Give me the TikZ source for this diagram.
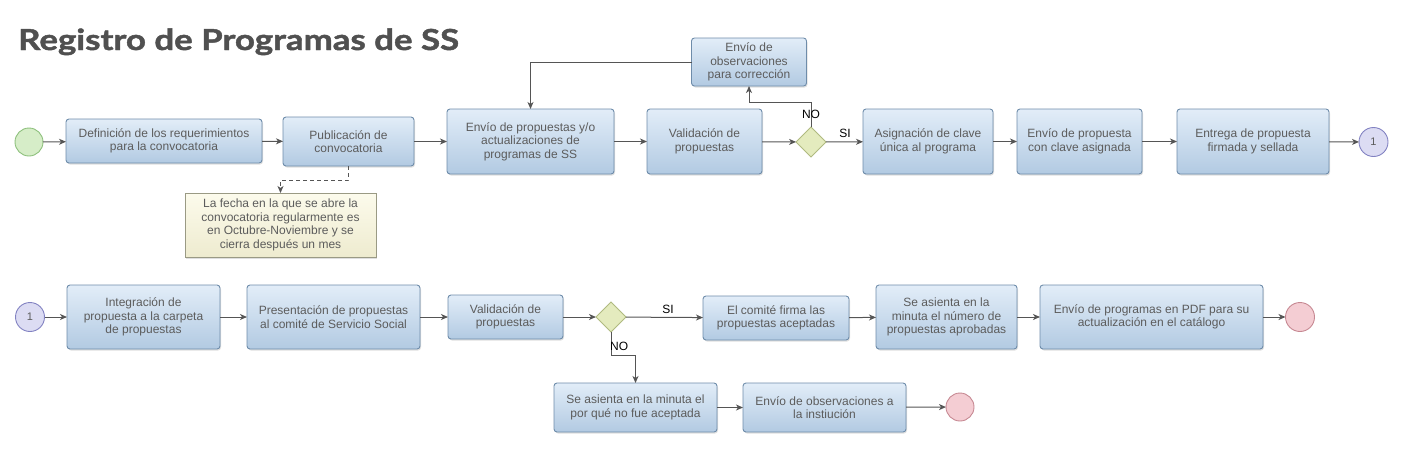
\documentclass[tikz,border=0pt]{standalone}
\usepackage{fontspec}
\setmainfont{Liberation Sans}
\newfontfamily\titlefont{Lato}[FakeStretch=1.2, BoldFeatures={FakeBold=1.6}]
\usetikzlibrary{shapes.geometric,arrows.meta,shadows}
\definecolor{txtgray}{HTML}{5C5C5C}
\definecolor{titlegray}{HTML}{505050}
\definecolor{linegray}{HTML}{555555}
\definecolor{boxtop}{HTML}{E2EDF8}
\definecolor{boxbot}{HTML}{B2CAE2}
\definecolor{boxline}{HTML}{6E8CAA}
\definecolor{notetop}{HTML}{FCFBEC}
\definecolor{notebot}{HTML}{EEEBCF}
\definecolor{noteline}{HTML}{9A9A84}
\definecolor{gatefill}{HTML}{E4EBBE}
\definecolor{gateline}{HTML}{B0BA80}
\definecolor{startfill}{HTML}{D6EDC8}
\definecolor{startline}{HTML}{8DC07C}
\definecolor{endfill}{HTML}{F4CDD3}
\definecolor{endline}{HTML}{C68892}
\definecolor{linkfill}{HTML}{DCDCF3}
\definecolor{linkline}{HTML}{8282C2}
\tikzset{
  proc/.style={rectangle, rounded corners=3pt, draw=boxline, line width=0.9pt,
    top color=boxtop, bottom color=boxbot, text=txtgray, align=center,
    inner sep=0pt, outer sep=0pt, font=\fontsize{12}{13.5}\selectfont,
    drop shadow={shadow xshift=1pt, shadow yshift=-1.5pt, opacity=0.25}},
  nota/.style={rectangle, draw=noteline, line width=0.9pt,
    top color=notetop, bottom color=notebot, text=txtgray, align=center,
    inner sep=0pt, outer sep=0pt, font=\fontsize{12}{13.5}\selectfont,
    drop shadow={shadow xshift=1pt, shadow yshift=-1.5pt, opacity=0.25}},
  gate/.style={diamond, draw=gateline, line width=0.9pt, fill=gatefill,
    minimum width=30pt, minimum height=30pt, inner sep=0pt, outer sep=0pt},
  startev/.style={circle, draw=startline, line width=0.9pt, fill=startfill,
    minimum size=28pt, inner sep=0pt, outer sep=0pt},
  endev/.style={circle, draw=endline, line width=0.9pt, fill=endfill,
    minimum size=29pt, inner sep=0pt, outer sep=0pt},
  linkev/.style={circle, draw=linkline, line width=0.9pt, fill=linkfill,
    minimum size=29pt, inner sep=0pt, outer sep=0pt, text=txtgray,
    font=\fontsize{11}{12}\selectfont},
  flow/.style={draw=linegray, line width=1pt,
    -{Stealth[length=7pt, width=6pt, inset=2pt]}},
  lbl/.style={font=\fontsize{12}{13}\selectfont, text=black, inner sep=0pt}
}
\begin{document}
\begin{tikzpicture}[x=1pt, y=-1pt]
  \useasboundingbox (0,0) rectangle (1418,464);
  \node[anchor=base west, inner sep=0pt, text=titlegray,
    font=\titlefont\bfseries\fontsize{29}{32}\selectfont] (title) at (18,50) {Registro de Programas de SS};

  % primera fila
  \node[startev] (start) at (29,142) {};
  \node[proc, minimum width=196pt, minimum height=44pt] (def) at (164,141) {Definición de los requerimientos\\para la convocatoria};
  \node[proc, minimum width=131pt, minimum height=49pt] (pub) at (348.5,141.5) {Publicación de\\convocatoria};
  \node[proc, minimum width=167pt, minimum height=65pt] (envio) at (530.5,141.5) {Envío de propuestas y/o\\actualizaciones de\\programas de SS};
  \node[proc, minimum width=115pt, minimum height=65pt] (valid) at (704.5,141.5) {Validación de\\propuestas};
  \node[gate] (gw1) at (811,142) {};
  \node[proc, minimum width=115pt, minimum height=48pt] (obs) at (749,62) {Envío de\\observaciones\\para corrección};
  \node[proc, minimum width=130pt, minimum height=65pt] (asig) at (928,141.5) {Asignación de clave\\única al programa};
  \node[proc, minimum width=125pt, minimum height=65pt] (clave) at (1079.5,141.5) {Envío de propuesta\\con clave asignada};
  \node[proc, minimum width=152pt, minimum height=65pt] (entr) at (1253,141.5) {Entrega de propuesta\\firmada y sellada};
  \node[linkev] (linkA) at (1373.5,142) {1};
  \node[nota, minimum width=191pt, minimum height=64pt] (fecha) at (280.5,225) {La fecha en la que se abre la\\convocatoria regularmente es\\en Octubre-Noviembre y se\\cierra después un mes};

  \coordinate (k1) at (811,102);
  \coordinate (k2) at (348.5,180);

  \draw[flow] (start) -- (def);
  \draw[flow] (def) -- (pub);
  \draw[flow] (pub) -- (envio);
  \draw[flow] (envio) -- (valid);
  \draw[flow] (valid) -- (gw1);
  \draw[flow] (gw1) -- (asig);
  \draw[flow] (asig) -- (clave);
  \draw[flow] (clave) -- (entr);
  \draw[flow] (entr) -- (linkA);
  \draw[flow] (gw1.north) -- (k1) -| (obs.south);
  \draw[flow] (obs.west) -| (envio.north);
  \draw[flow, dash pattern=on 4pt off 3pt] (pub.south) -- (k2) -| (fecha.north);
  \node[lbl] (no1) at (811,114) {NO};
  \node[lbl] (si1) at (845,133) {SI};

  % segunda fila
  \node[linkev] (linkB) at (30,317) {1};
  \node[proc, minimum width=153pt, minimum height=64pt] (integ) at (143.5,317) {Integración de\\propuesta a la carpeta\\de propuestas};
  \node[proc, minimum width=173pt, minimum height=64pt] (pres) at (333.5,317) {Presentación de propuestas\\al comité de Servicio Social};
  \node[proc, minimum width=115pt, minimum height=44pt] (valid2) at (505.5,317) {Validación de\\propuestas};
  \node[gate] (gw2) at (611,317) {};
  \node[proc, minimum width=146pt, minimum height=44pt] (firma) at (776,318) {El comité firma las\\propuestas aceptadas};
  \node[proc, minimum width=141pt, minimum height=64pt] (minuta) at (946.5,317) {Se asienta en la\\minuta el número de\\propuestas aprobadas};
  \node[proc, minimum width=223pt, minimum height=64pt] (pdf) at (1151.5,317) {Envío de programas en PDF para su\\actualización en el catálogo};
  \node[endev] (fin1) at (1300,317) {};
  \node[proc, minimum width=163pt, minimum height=49pt] (noacep) at (635.5,407.5) {Se asienta en la minuta el\\por qué no fue aceptada};
  \node[proc, minimum width=163pt, minimum height=49pt] (obsinst) at (824.5,407.5) {Envío de observaciones a\\la instiución};
  \node[endev, minimum size=28pt] (fin2) at (960,407) {};

  \coordinate (k3) at (611,355);

  \draw[flow] (linkB) -- (integ);
  \draw[flow] (integ) -- (pres);
  \draw[flow] (pres) -- (valid2);
  \draw[flow] (valid2) -- (gw2);
  \draw[flow] (gw2) -- (firma);
  \draw[flow] (firma) -- (minuta);
  \draw[flow] (minuta) -- (pdf);
  \draw[flow] (pdf) -- (fin1);
  \draw[flow] (gw2.south) -- (k3) -| (noacep.north);
  \draw[flow] (noacep) -- (obsinst);
  \draw[flow] (obsinst) -- (fin2);
  \node[lbl] (si2) at (668,309) {SI};
  \node[lbl, anchor=west] (no2) at (610,346) {NO};
\end{tikzpicture}
\end{document}
